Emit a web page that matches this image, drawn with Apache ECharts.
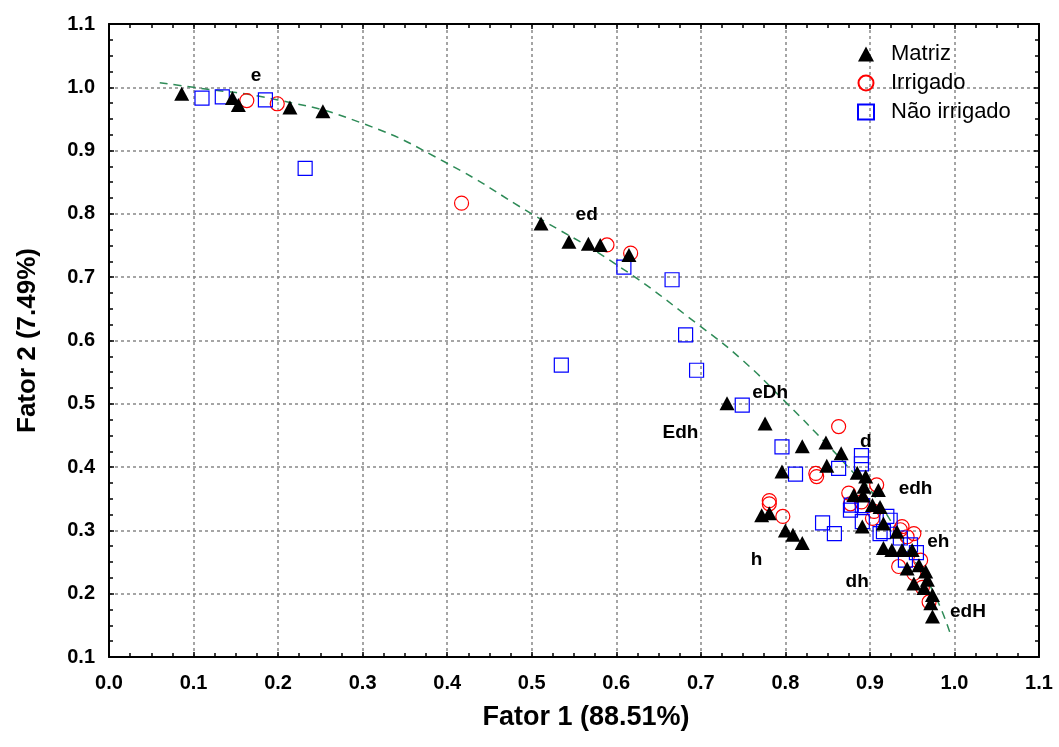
<!DOCTYPE html>
<html>
<head>
<meta charset="utf-8">
<script src="https://cdn.jsdelivr.net/npm/echarts@6/dist/echarts.min.js"></script>
<style>
  html, body { margin: 0; padding: 0; background: #fff; }
  #main { width: 1059px; height: 747px; }
</style>
</head>
<body>
<div id="main"></div>
<script>
// valores (Fator 1, Fator 2)
var matriz = [
  [0.086, 0.990], [0.146, 0.983], [0.153, 0.972], [0.214, 0.968], [0.253, 0.962],
  [0.511, 0.785], [0.544, 0.756], [0.567, 0.753], [0.581, 0.751], [0.615, 0.735],
  [0.731, 0.501], [0.776, 0.469], [0.820, 0.433], [0.848, 0.439], [0.866, 0.422],
  [0.849, 0.402], [0.796, 0.393], [0.885, 0.391], [0.895, 0.385], [0.772, 0.324],
  [0.781, 0.327], [0.800, 0.300], [0.809, 0.293], [0.820, 0.280], [0.893, 0.369],
  [0.881, 0.356], [0.892, 0.355], [0.910, 0.364], [0.903, 0.340], [0.912, 0.337],
  [0.891, 0.306], [0.916, 0.311], [0.932, 0.298], [0.916, 0.272], [0.926, 0.269],
  [0.938, 0.269], [0.950, 0.269], [0.966, 0.235], [0.968, 0.222], [0.952, 0.216],
  [0.964, 0.209], [0.974, 0.198], [0.972, 0.185], [0.974, 0.164], [0.958, 0.245],
  [0.944, 0.240]
];
var irrigado = [
  [0.163, 0.979], [0.199, 0.974], [0.417, 0.817], [0.589, 0.751], [0.617, 0.738],
  [0.863, 0.464], [0.836, 0.390], [0.837, 0.385], [0.781, 0.347], [0.781, 0.342],
  [0.797, 0.322], [0.908, 0.372], [0.875, 0.359], [0.877, 0.342], [0.903, 0.319],
  [0.936, 0.301], [0.944, 0.290], [0.934, 0.243], [0.952, 0.232], [0.938, 0.306],
  [0.952, 0.295], [0.960, 0.253], [0.970, 0.187], [0.962, 0.210], [0.905, 0.330],
  [0.890, 0.345]
];
var naoIrrigado = [
  [0.110, 0.983], [0.134, 0.985], [0.185, 0.980], [0.232, 0.872], [0.609, 0.716],
  [0.666, 0.696], [0.682, 0.609], [0.695, 0.553], [0.535, 0.561], [0.749, 0.498],
  [0.796, 0.432], [0.812, 0.389], [0.863, 0.398], [0.890, 0.418], [0.890, 0.405],
  [0.844, 0.312], [0.858, 0.295], [0.877, 0.332], [0.891, 0.339], [0.891, 0.314],
  [0.912, 0.295], [0.924, 0.316], [0.920, 0.322], [0.916, 0.298], [0.936, 0.288],
  [0.942, 0.253], [0.948, 0.277], [0.955, 0.265], [0.878, 0.340]
];
// curva tracejada
var curva = [
  [0.06, 1.007], [0.10, 1.000], [0.20, 0.980], [0.30, 0.943], [0.40, 0.880],
  [0.50, 0.800], [0.60, 0.720], [0.70, 0.622], [0.75, 0.568], [0.80, 0.503],
  [0.85, 0.435], [0.88, 0.392], [0.90, 0.365], [0.95, 0.258], [0.976, 0.200],
  [0.995, 0.137]
];
// rótulos dos grupos
var rotulos = [
  [0.174, 1.018, 'e'], [0.565, 0.798, 'ed'], [0.782, 0.517, 'eDh'],
  [0.676, 0.454, 'Edh'], [0.895, 0.440, 'd'], [0.954, 0.366, 'edh'],
  [0.981, 0.282, 'eh'], [0.766, 0.253, 'h'], [0.885, 0.219, 'dh'],
  [1.016, 0.172, 'edH']
];

var myChart = echarts.init(document.getElementById('main'));
var fonte = 'Liberation Sans, Arial, sans-serif';

function eixo(extra) {
  var base = {
    type: 'value',
    axisLine: { show: true, onZero: false, lineStyle: { color: '#000', width: 2 } },
    axisTick: { show: true, inside: true, length: 5, lineStyle: { color: '#000', width: 1.5 } },
    minorTick: { show: true, splitNumber: 4, length: 4, lineStyle: { color: '#000', width: 1.5 } },
    splitLine: { show: false },
    axisLabel: { show: false }
  };
  return Object.assign(base, extra);
}

var option = {
  animation: false,
  grid: { left: 109, right: 20, top: 24, bottom: 90, containLabel: false },
  xAxis: [
    eixo({
      min: 0, max: 1.1, interval: 0.1, position: 'bottom',
      name: 'Fator 1 (88.51%)', nameLocation: 'middle', nameGap: 47,
      nameTextStyle: { fontFamily: fonte, fontWeight: 'bold', fontSize: 27, color: '#000', padding: [0, 0, 0, 24] },
      axisLabel: {
        show: true, margin: 16, color: '#000', fontFamily: fonte, fontWeight: 'bold', fontSize: 20,
        formatter: function (v) { return v.toFixed(1); }
      },
      splitLine: { show: true, lineStyle: { color: '#888', width: 1.5, type: [3, 3] } }
    }),
    eixo({ min: 0, max: 1.1, interval: 0.1, position: 'top' })
  ],
  yAxis: [
    eixo({
      min: 0.1, max: 1.1, interval: 0.1, position: 'left',
      name: 'Fator 2 (7.49%)', nameLocation: 'middle', nameGap: 68, nameRotate: 90,
      nameTextStyle: { fontFamily: fonte, fontWeight: 'bold', fontSize: 26, color: '#000' },
      axisLabel: {
        show: true, margin: 14, color: '#000', fontFamily: fonte, fontWeight: 'bold', fontSize: 20,
        formatter: function (v) { return v.toFixed(1); }
      },
      splitLine: { show: true, lineStyle: { color: '#888', width: 1.5, type: [3, 3] } }
    }),
    eixo({ min: 0.1, max: 1.1, interval: 0.1, position: 'right' })
  ],
  legend: {
    data: ['Matriz', 'Irrigado', 'Não irrigado'],
    orient: 'vertical',
    left: 852, top: 38,
    itemWidth: 16, itemHeight: 15, itemGap: 7,
    textStyle: { fontFamily: fonte, fontSize: 22, color: '#000', padding: [0, 0, 0, 12] },
    backgroundColor: 'transparent'
  },
  series: [
    {
      name: 'curva', type: 'line', data: curva, smooth: true, symbol: 'none', z: 1,
      lineStyle: { color: '#2e8b57', width: 1.5, type: [8, 6] }, silent: true
    },
    {
      name: 'Irrigado', type: 'scatter', data: irrigado, symbol: 'circle', symbolSize: 14, z: 3,
      itemStyle: { color: 'rgba(255,255,255,0)', borderColor: '#ff0000', borderWidth: 1.2, opacity: 1 }
    },
    {
      name: 'Não irrigado', type: 'scatter', data: naoIrrigado, symbol: 'rect', symbolSize: 14, z: 3,
      itemStyle: { color: 'rgba(255,255,255,0)', borderColor: '#0000ff', borderWidth: 1.2, opacity: 1 }
    },
    {
      name: 'Matriz', type: 'scatter', data: matriz, symbol: 'triangle', symbolSize: [15, 14], z: 4,
      itemStyle: { color: '#000', opacity: 1 }
    },
    {
      name: 'rotulos', type: 'scatter', data: rotulos, symbolSize: 0, z: 5, silent: true,
      itemStyle: { opacity: 1 },
      label: {
        show: true, position: 'inside', color: '#000', fontFamily: fonte, fontWeight: 'bold', fontSize: 19,
        formatter: function (p) { return p.data[2]; }
      }
    }
  ]
};

myChart.setOption(option, true);
</script>
</body>
</html>
